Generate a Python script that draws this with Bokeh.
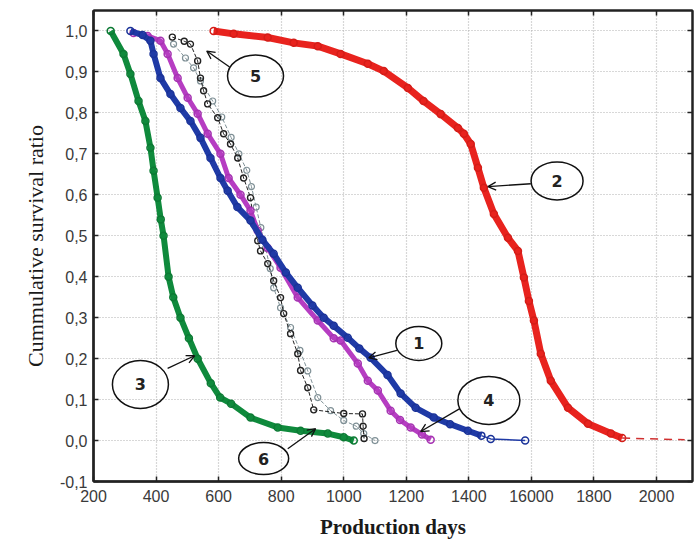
from bokeh.plotting import figure
from bokeh.models import Range1d, LinearAxis, FixedTicker, Arrow, OpenHead
from bokeh.embed import file_html
from bokeh.resources import INLINE
from bokeh.core.properties import value

# ---------------- data ----------------
x_ticks = [200, 400, 600, 800, 1000, 1200, 1400, 1600, 1800, 2000]
x_tick_labels = ["200", "400", "600", "800", "1000", "1200", "1400", "16000", "1800", "2000"]
y_ticks = [-0.1, 0.0, 0.1, 0.2, 0.3, 0.4, 0.5, 0.6, 0.7, 0.8, 0.9, 1.0]
y_tick_labels = ["-0,1", "0,0", "0,1", "0,2", "0,3", "0,4", "0,5", "0,6", "0,7", "0,8", "0,9", "1,0"]

# curve 1 (blue)
c1_x = [318, 357, 382, 392, 414, 446, 478, 510, 542, 574, 606, 629, 660, 702, 740, 776,
        815, 853, 900, 936, 968, 1013, 1050, 1086, 1140, 1182, 1230, 1288, 1340, 1397,
        1440, 1470, 1580]
c1_y = [1.0, 0.99, 0.976, 0.944, 0.885, 0.846, 0.812, 0.78, 0.739, 0.69, 0.641, 0.61,
        0.57, 0.537, 0.49, 0.456, 0.41, 0.373, 0.33, 0.30, 0.28, 0.251, 0.225, 0.202,
        0.16, 0.115, 0.08, 0.056, 0.04, 0.024, 0.012, 0.004, 0.0]

# curve 2 (red)
c2_x = [584, 648, 757, 840, 917, 990, 1077, 1128, 1205, 1255, 1310, 1365, 1384, 1406,
        1429, 1448, 1480, 1525, 1557, 1576, 1592, 1608, 1630, 1662, 1717, 1781, 1854, 1890]
c2_y = [1.0, 0.993, 0.984, 0.971, 0.963, 0.944, 0.92, 0.902, 0.861, 0.829, 0.797, 0.763,
        0.749, 0.724, 0.666, 0.617, 0.553, 0.495, 0.463, 0.398, 0.341, 0.293, 0.212,
        0.146, 0.08, 0.041, 0.017, 0.006]
c2_tail_x = [1890, 2090]
c2_tail_y = [0.006, 0.002]

# curve 3 (green)
c3_x = [255, 296, 318, 344, 366, 382, 392, 405, 415, 424, 440, 455, 478, 505, 533,
        575, 605, 640, 702, 789, 862, 949, 1000, 1032]
c3_y = [1.0, 0.944, 0.895, 0.829, 0.78, 0.715, 0.659, 0.593, 0.54, 0.5, 0.4, 0.35,
        0.3, 0.25, 0.2, 0.14, 0.105, 0.09, 0.056, 0.032, 0.024, 0.017, 0.008, 0.0]

# curve 4 (magenta)
c4_x = [328, 373, 414, 437, 469, 501, 533, 565, 606, 632, 670, 702, 725, 757, 798,
        853, 917, 968, 990, 1045, 1077, 1109, 1150, 1180, 1214, 1250, 1278]
c4_y = [0.995, 0.988, 0.976, 0.944, 0.885, 0.837, 0.798, 0.749, 0.70, 0.641, 0.60,
        0.561, 0.512, 0.47, 0.422, 0.349, 0.293, 0.25, 0.244, 0.188, 0.146, 0.122,
        0.073, 0.05, 0.032, 0.015, 0.002]

# curve 5 (black, dashed)
c5_x = [452, 490, 510, 533, 542, 552, 565, 597, 616, 638, 661, 680, 702, 712, 725,
        734, 757, 776, 798, 808, 830, 853, 862, 885, 904, 1000, 1060, 1062, 1065]
c5_y = [0.985, 0.975, 0.968, 0.927, 0.885, 0.854, 0.822, 0.788, 0.749, 0.724, 0.69,
        0.641, 0.593, 0.529, 0.488, 0.463, 0.432, 0.39, 0.349, 0.31, 0.261, 0.212,
        0.171, 0.129, 0.075, 0.066, 0.065, 0.035, 0.005]

# curve 6 (grey, dashed)
c6_x = [456, 494, 520, 542, 581, 610, 640, 665, 690, 705, 720, 735, 750, 765, 776,
        798, 830, 860, 885, 917, 958, 1000, 1040, 1064, 1100]
c6_y = [0.968, 0.934, 0.91, 0.878, 0.829, 0.79, 0.74, 0.70, 0.66, 0.62, 0.57, 0.52,
        0.47, 0.42, 0.373, 0.324, 0.276, 0.22, 0.17, 0.105, 0.073, 0.049, 0.035,
        0.017, 0.0]

# ---------------- figure ----------------
p = figure(width=699, height=544, x_range=Range1d(200, 2115), y_range=Range1d(-0.1, 1.05),
           output_backend="svg", toolbar_location=None,
           min_border_left=93, min_border_right=7, min_border_top=10, min_border_bottom=63)
p.background_fill_color = "white"
p.border_fill_color = "white"
p.outline_line_color = "#222222"
p.outline_line_width = 2

for ax in (p.xaxis[0], p.yaxis[0]):
    ax.major_tick_in = 5
    ax.major_tick_out = 0
    ax.minor_tick_line_color = None
    ax.axis_line_width = 2.5
    ax.axis_line_color = "#222222"
    ax.major_tick_line_color = "#222222"
    ax.major_tick_line_width = 1.5
    ax.major_label_text_font = "Liberation Sans"
    ax.major_label_text_font_size = "16px"
    ax.major_label_text_color = "#3a3a3a"
    ax.axis_label_text_font = "Liberation Serif"
    ax.axis_label_text_font_size = "21px"
    ax.axis_label_text_color = "#1a1a1a"

p.xaxis[0].ticker = FixedTicker(ticks=x_ticks)
p.xaxis[0].major_label_overrides = dict(zip(x_ticks, x_tick_labels))
p.xaxis[0].axis_label = "Production days"
p.xaxis[0].axis_label_text_font_style = "bold"
p.xaxis[0].major_label_standoff = 8
p.xaxis[0].axis_label_standoff = 10

p.yaxis[0].ticker = FixedTicker(ticks=y_ticks)
p.yaxis[0].major_label_overrides = dict(zip(y_ticks, y_tick_labels))
p.yaxis[0].axis_label = "Cummulative survival ratio"
p.yaxis[0].axis_label_text_font_style = "normal"
p.yaxis[0].axis_label_text_font_size = "22px"
p.yaxis[0].major_label_standoff = 6
p.yaxis[0].axis_label_standoff = 9

for loc, tk in (("above", x_ticks), ("right", y_ticks)):
    ax = LinearAxis(ticker=FixedTicker(ticks=tk), major_label_text_font_size="0px",
                    major_label_text_color=None,
                    major_tick_in=5, major_tick_out=0, minor_tick_line_color=None,
                    major_label_standoff=0, axis_line_width=2, axis_line_color="#222222",
                    major_tick_line_color="#222222", major_tick_line_width=1.5)
    p.add_layout(ax, loc)

p.xgrid.ticker = FixedTicker(ticks=x_ticks)
p.ygrid.ticker = FixedTicker(ticks=y_ticks)
for g in (p.xgrid[0], p.ygrid[0]):
    g.grid_line_color = "#b0b0b0"
    g.grid_line_dash = "1 2"
    g.grid_line_width = 1.2

# ---------------- curves ----------------
p.line(c6_x, c6_y, line_color="#7f9096", line_width=1, line_dash="4 2")
p.scatter(c6_x, c6_y, marker="circle", size=6, fill_color=None, line_color="#7f9096", line_width=1.2)
p.line(c5_x, c5_y, line_color="#222222", line_width=1, line_dash="4 2")
p.scatter(c5_x, c5_y, marker="circle", size=6, fill_color=None, line_color="#222222", line_width=1.4)

p.line(c3_x, c3_y, line_color="#0f8a3c", line_width=6)
p.scatter(c3_x, c3_y, marker="circle", size=7, fill_color=None, line_color="#0c7a34", line_width=1.5)

p.line(c4_x, c4_y, line_color="#b63dc2", line_width=5)
p.scatter(c4_x, c4_y, marker="circle", size=7, fill_color=None, line_color="#a634b2", line_width=1.5)

p.line(c1_x[:-2], c1_y[:-2], line_color="#1f3aa6", line_width=6)
p.line(c1_x[-3:], c1_y[-3:], line_color="#1f3aa6", line_width=1.5)
p.scatter(c1_x, c1_y, marker="circle", size=7, fill_color=None, line_color="#1a3298", line_width=1.5)

p.line(c2_x, c2_y, line_color="#e8231e", line_width=7)
p.scatter(c2_x, c2_y, marker="circle", size=7, fill_color=None, line_color="#d41d18", line_width=1.5)
p.line(c2_tail_x, c2_tail_y, line_color="#d03030", line_width=1.5, line_dash="8 6")

# ---------------- annotations ----------------
labels = ["1", "2", "3", "4", "5", "6"]
lab_x = [1240, 1682, 350, 1464, 718, 744]
lab_y = [0.237, 0.634, 0.137, 0.098, 0.89, -0.044]
lab_w = [46, 52, 56, 62, 56, 50]
lab_h = [34, 38, 48, 48, 42, 32]
p.ellipse(x=lab_x, y=lab_y, width=lab_w, height=lab_h, width_units="screen",
          height_units="screen", fill_color=None, line_color="#111111", line_width=1.5)
p.text(x=lab_x, y=lab_y, text=labels, text_align="center", text_baseline="middle",
       text_font=value("DejaVu Sans"), text_font_style="bold", text_font_size="16px",
       text_color="#222222")

arrows = [
    (1170, 0.22, 1080, 0.202),
    (1598, 0.627, 1461, 0.62),
    (437, 0.176, 523, 0.207),
    (1371, 0.078, 1246, 0.022),
    (635, 0.912, 562, 0.951),
    (821, -0.02, 910, 0.029),
]
for xs, ys, xe, ye in arrows:
    p.add_layout(Arrow(end=OpenHead(size=8, line_width=1.3, line_color="#111111"),
                       x_start=xs, y_start=ys, x_end=xe, y_end=ye,
                       line_width=1.3, line_color="#111111"))

open("out.html", "w").write(file_html(p, INLINE))
